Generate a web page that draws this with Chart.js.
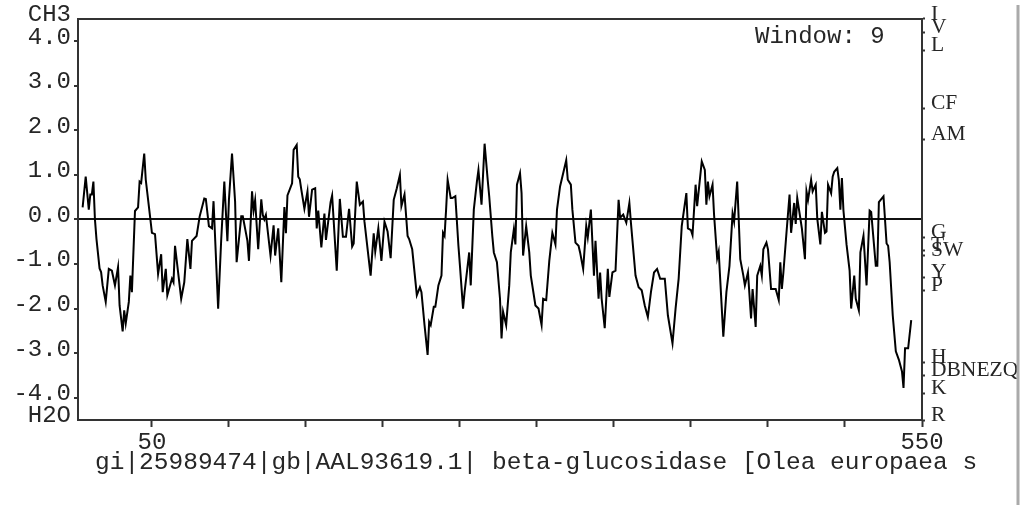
<!DOCTYPE html>
<html>
<head>
<meta charset="utf-8">
<script src="https://cdn.jsdelivr.net/npm/chart.js@4.4.1/dist/chart.umd.min.js"></script>
<style>
  body { margin: 0; background: #fff; }
  #wrap { position: relative; width: 1026px; height: 509px; }
</style>
</head>
<body>
<div id="wrap"><canvas id="chart" width="1026" height="509"></canvas></div>
<script>
// hydropathy trace (residue number, score)
const residues = [
  5, 7, 9, 10, 11, 12, 13, 14, 16, 17, 18, 20, 22, 24, 26, 28, 29, 31, 32, 33,
  35, 36, 37, 39, 41, 42, 43, 45, 46, 48, 49, 50, 52, 54, 56, 57, 59, 60, 63, 64,
  65, 67, 69, 71, 73, 75, 76, 79, 81, 84, 85, 87, 89, 90, 93, 95, 97, 99, 100, 102,
  104, 105, 108, 109, 112, 113, 115, 116, 117, 119, 121, 122, 123, 124, 127, 129, 130, 132, 134, 136,
  137, 138, 141, 142, 144, 145, 146, 147, 149, 151, 152, 154, 156, 157, 158, 160, 162, 163, 166, 167,
  170, 172, 174, 176, 178, 180, 181, 183, 185, 187, 188, 192, 194, 195, 197, 199, 201, 203, 205, 207,
  209, 211, 212, 214, 216, 217, 219, 222, 224, 225, 227, 229, 230, 231, 233, 234, 236, 238, 239, 240,
  241, 242, 244, 245, 247, 249, 250, 252, 253, 256, 257, 259, 261, 262, 264, 265, 266, 268, 269, 271,
  272, 274, 276, 277, 278, 280, 282, 283, 285, 286, 287, 289, 290, 291, 293, 295, 296, 299, 301, 303,
  304, 306, 308, 310, 312, 313, 315, 319, 320, 322, 323, 325, 327, 328, 330, 332, 333, 335, 337, 338,
  340, 341, 342, 344, 346, 347, 349, 351, 353, 354, 356, 358, 360, 361, 364, 366, 368, 370, 372, 374,
  376, 378, 380, 383, 385, 388, 390, 392, 394, 397, 398, 400, 401, 403, 404, 407, 409, 410, 411, 412,
  414, 415, 417, 418, 421, 423, 425, 427, 428, 430, 431, 432, 434, 435, 437, 439, 440, 442, 443, 445,
  446, 447, 449, 450, 452, 455, 457, 458, 459, 460, 462, 464, 465, 467, 468, 469, 472, 474, 475, 476,
  478, 479, 481, 482, 484, 485, 487, 488, 489, 491, 492, 493, 495, 496, 497, 498, 499, 501, 503, 504,
  506, 507, 509, 510, 512, 514, 516, 517, 520, 521, 522, 525, 527, 528, 529, 531, 533, 535, 537, 538,
  539, 541, 543
];
const scores = [
  0.27, 0.96, 0.22, 0.56, 0.56, 0.85, 0.0, -0.44, -1.1, -1.18, -1.48, -1.85, -1.11, -1.15, -1.48, -1.07, -1.93, -2.51, -2.04, -2.33,
  -1.85, -1.26, -1.63, 0.19, 0.27, 0.85, 0.82, 1.48, 0.89, 0.3, 0.0, -0.3, -0.33, -1.22, -0.78, -1.63, -1.11, -1.7, -1.33, -1.41,
  -0.59, -1.19, -1.78, -1.41, -0.44, -1.11, -0.48, -0.37, 0.07, 0.47, 0.46, -0.15, -0.2, 0.41, -2.0, -0.44, 0.85, -0.49, 0.44, 1.48,
  0.4, -0.96, 0.07, 0.07, -0.48, -0.93, 0.63, 0.2, 0.43, -0.67, 0.45, 0.1, 0.0, 0.1, -0.81, -0.13, -0.81, -0.2, -1.41, 0.28,
  -0.31, 0.54, 0.81, 1.56, 1.67, 0.96, 0.9, 0.67, 0.24, 0.63, 0.06, 0.67, 0.7, -0.2, 0.2, -0.63, 0.13, -0.46, 0.39, 0.54,
  -1.15, 0.46, -0.39, -0.39, 0.24, -0.61, -0.54, 0.85, 0.33, 0.4, -0.05, -1.26, -0.31, -0.72, -0.2, -0.93, -0.05, -0.27, -0.87, 0.44,
  0.7, 1.0, 0.3, 0.56, -0.37, -0.44, -0.67, -1.7, -1.52, -1.63, -2.37, -3.04, -2.3, -2.37, -1.96, -1.96, -1.48, -1.26, -0.3, -0.37,
  0.22, 0.89, 0.48, 0.48, 0.52, -0.59, -1.04, -2.0, -1.63, -0.74, -1.48, 0.22, 0.85, 1.11, 0.33, 1.0, 1.7, 0.89, 0.52, -0.37,
  -0.74, -0.96, -1.78, -2.67, -2.07, -2.37, -1.48, -0.74, -0.22, -0.56, 0.78, 1.04, 0.59, -0.81, -0.15, -0.74, -1.26, -1.93, -2.0, -2.37,
  -1.78, -1.81, -0.93, -0.3, -0.56, 0.22, 0.74, 1.33, 0.89, 0.78, 0.22, -0.52, -0.59, -0.74, -1.11, -0.15, -0.4, 0.22, -1.26, -0.48,
  -1.78, -1.19, -1.78, -2.44, -1.11, -1.74, -1.19, -1.15, 0.44, 0.04, 0.11, -0.07, 0.37, -0.07, -1.26, -1.52, -1.59, -1.93, -2.19, -1.63,
  -1.19, -1.11, -1.33, -1.33, -2.15, -2.78, -2.0, -1.33, -0.15, 0.59, -0.2, -0.24, -0.35, 0.78, 0.3, 1.3, 1.11, 0.33, 0.85, 0.52,
  0.78, 0.1, -0.87, -0.72, -2.63, -1.63, -1.04, 0.13, -0.05, 0.85, 0.0, -0.89, -1.26, -1.48, -1.19, -2.22, -1.56, -2.41, -1.26, -1.04,
  -1.26, -0.67, -0.52, -0.67, -1.56, -1.56, -1.81, -0.96, -1.56, -1.19, -0.3, 0.56, -0.3, 0.37, -0.1, 0.48, -0.2, -0.89, 0.63, 0.44,
  0.89, 0.63, 0.78, 0.02, -0.56, 0.17, -0.3, -0.27, 0.78, 0.59, 0.96, 1.07, 1.15, 0.89, 0.22, 0.93, 0.2, -0.56, -1.15, -2.0,
  -1.26, -1.78, -2.04, -0.74, -0.37, -1.48, 0.2, 0.17, -1.04, -1.04, 0.39, 0.52, -0.54, -0.59, -0.96, -2.15, -2.96, -3.15, -3.41, -3.78,
  -2.89, -2.89, -2.26
];

// left axis ticks
const leftTicks = [-4.5, -4, -3, -2, -1, 0, 1, 2, 3, 4, 4.5];
// right axis: Kyte-Doolittle residue scale
const aaValues = [4.5, 4.2, 3.8, 2.5, 1.8, -0.4, -0.7, -0.8, -1.3, -1.6, -3.2, -3.5, -3.9, -4.5];
const aaLabels = ['I', 'V', 'L', 'CF', 'AM', 'G', 'T', 'SW', 'Y', 'P', 'H', 'DBNEZQ', 'K', 'R'];
const xTicks = [50, 100, 150, 200, 250, 300, 350, 400, 450, 500, 550];
const xLabelled = [50, 550];

const windowText = 'Window: 9';
const seqTitle = 'gi|25989474|gb|AAL93619.1| beta-glucosidase [Olea europaea s';

const mono = 'Liberation Mono';
const ink = '#262626';

const extras = {
  id: 'extras',
  afterDraw(chart) {
    const { ctx, chartArea } = chart;
    ctx.save();
    // box top edge
    ctx.strokeStyle = '#333';
    ctx.lineWidth = 2;
    ctx.beginPath();
    ctx.moveTo(chartArea.left, chartArea.top);
    ctx.lineTo(chartArea.right, chartArea.top);
    ctx.stroke();

    ctx.fillStyle = ink;
    ctx.textBaseline = 'middle';
    ctx.textAlign = 'left';
    ctx.font = '24px ' + mono;
    ctx.fillText(windowText, 755, 37);
    ctx.font = '24.5px ' + mono;
    ctx.fillText(seqTitle, 95, 463);

    // window edge on the right
    ctx.strokeStyle = '#aaa';
    ctx.lineWidth = 3;
    ctx.beginPath();
    ctx.moveTo(1018, 5);
    ctx.lineTo(1018, 505);
    ctx.stroke();
    ctx.restore();
  }
};

new Chart(document.getElementById('chart'), {
  type: 'line',
  data: {
    datasets: [{
      data: residues.map((r, i) => ({ x: r, y: scores[i] })),
      borderColor: '#000',
      borderWidth: 2,
      pointRadius: 0,
      tension: 0,
      fill: false
    }]
  },
  options: {
    responsive: false,
    devicePixelRatio: 1,
    animation: false,
    layout: { padding: { top: 18, left: 0, right: 0, bottom: 0 } },
    plugins: { legend: { display: false }, tooltip: { enabled: false } },
    scales: {
      x: {
        type: 'linear',
        min: 2,
        max: 550,
        afterBuildTicks: s => { s.ticks = xTicks.map(v => ({ value: v })); },
        afterFit: s => { s.height = 89; },
        ticks: {
          autoSkip: false,
          maxRotation: 0,
          padding: 1,
          color: ink,
          font: { family: mono, size: 24 },
          callback: v => xLabelled.includes(v) ? String(v) : ''
        },
        grid: { drawOnChartArea: false, tickLength: 7, tickWidth: 2, tickColor: '#333' },
        border: { display: true, color: '#333', width: 2 }
      },
      y: {
        position: 'left',
        min: -4.5,
        max: 4.5,
        afterBuildTicks: s => { s.ticks = leftTicks.map(v => ({ value: v })); },
        afterFit: s => { s.width = 78; },
        ticks: {
          autoSkip: false,
          padding: 3,
          labelOffset: -4,
          color: ink,
          font: { family: mono, size: 24 },
          callback: v => v === 4.5 ? 'CH3' : v === -4.5 ? 'H2O' : v.toFixed(1)
        },
        grid: {
          drawOnChartArea: true,
          color: c => (c.tick && c.tick.value === 0) ? '#111' : 'rgba(0,0,0,0)',
          lineWidth: 2,
          tickLength: 4,
          tickWidth: 2,
          tickColor: c => (c.tick && Math.abs(c.tick.value) === 4.5) ? 'rgba(0,0,0,0)' : '#333'
        },
        border: { display: true, color: '#333', width: 2 }
      },
      y2: {
        position: 'right',
        min: -4.5,
        max: 4.5,
        afterBuildTicks: s => { s.ticks = aaValues.map(v => ({ value: v })); },
        afterFit: s => { s.width = 104; },
        ticks: {
          autoSkip: false,
          padding: 6,
          labelOffset: -5,
          color: ink,
          font: { family: 'Liberation Serif', size: 21.5 },
          callback: (v, i) => aaLabels[i]
        },
        grid: { drawOnChartArea: false, tickLength: 3, tickWidth: 2, tickColor: '#333' },
        border: { display: true, color: '#333', width: 2 }
      }
    }
  },
  plugins: [extras]
});
</script>
</body>
</html>
